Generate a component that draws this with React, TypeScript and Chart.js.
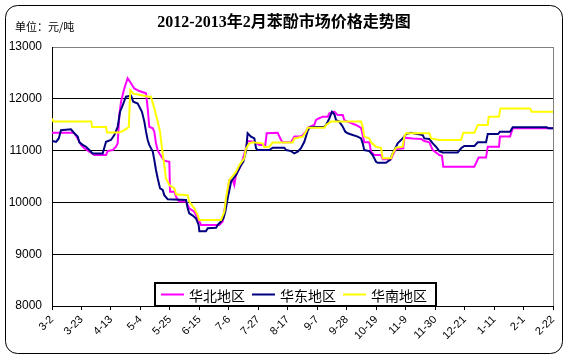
import React, { useEffect, useRef } from "react";
import { Chart, registerables } from "chart.js";

Chart.register(...registerables);

const chartTitle = "2012-2013年2月苯酚市场价格走势图";
const unitLabel = "单位：元/吨";
const tickLabels = ["3-2", "3-23", "4-13", "5-4", "5-25", "6-15", "7-6", "7-27", "8-17", "9-7", "9-28", "10-19", "11-9", "11-30", "12-21", "1-11", "2-1", "2-22"];
const dayStep = 21;
const seriesNames = ["华北地区", "华东地区", "华南地区"];
const seriesColors = ["#FF00FF", "#000080", "#FFFF00"];

// [day offset from 3-2, price 元/吨]
const huabei: [number, number][] = [
  [0, 11345], [14.8, 11345], [15.9, 11335], [18.3, 11235], [20.7, 11110], [23, 11045], [26.6, 10980], [30.1, 10915],
  [38.5, 10915], [39.7, 10990], [43.3, 11010], [45.6, 11075], [46.8, 11140], [48, 11690], [49.2, 11945], [51.5, 12200],
  [53.9, 12395], [56.3, 12300], [58.6, 12200], [62.2, 12150], [67, 12105], [68.2, 11815], [69.3, 11460], [71.8, 11430],
  [72.9, 11365], [74.1, 11140], [75.3, 11010], [76.5, 10945], [80, 10805], [83.6, 10785], [84.1, 10205], [87.2, 10205],
  [88.4, 10110], [90.7, 10015], [95.5, 10015], [97.8, 9885], [101.4, 9820], [105, 9630], [106.2, 9565], [119.2, 9565],
  [121.6, 9630], [123.5, 9950], [125.2, 10205], [126.3, 10430], [128.8, 10430], [129.9, 10335], [131.1, 10530],
  [134.7, 10720], [138.2, 11045], [139.4, 11185], [144.2, 11170], [147.7, 11110], [152, 11110], [153, 11335],
  [160.8, 11345], [163.2, 11205], [164.4, 11160], [170.3, 11160], [172.7, 11270], [177.4, 11270], [181, 11365],
  [182.2, 11440], [186.9, 11495], [188.1, 11590], [190, 11620], [192.9, 11655], [196.5, 11655], [197.6, 11720],
  [201.2, 11750], [203.6, 11685], [207.2, 11685], [208.3, 11590], [211.9, 11545], [216.6, 11495], [220.2, 11440],
  [221.4, 11300], [222.5, 11160], [226.1, 11160], [227.3, 10980], [229.7, 10915], [234.4, 10915], [235.7, 10835],
  [241.6, 10835], [242.8, 10915], [245.1, 11030], [250.3, 11045], [251, 11250], [257, 11235], [263, 11225],
  [265.3, 11185], [268.9, 11160], [271.3, 11010], [273.6, 10965], [276, 10915], [277.9, 10900], [278.8, 10690],
  [300.9, 10690], [302.1, 10755], [304, 10865], [309.3, 10865], [310.5, 11075], [318.5, 11075], [319.2, 11270],
  [326.4, 11270], [328.3, 11430], [357, 11430],
];

const huadong: [number, number][] = [
  [0, 11185], [2.9, 11170], [4.8, 11235], [6.4, 11395], [13.5, 11410], [15.9, 11335], [18.3, 11270], [19.5, 11160],
  [21.9, 11110], [24.2, 11075], [26.6, 11010], [29, 10945], [36.1, 10945], [38.5, 11170], [42, 11205], [44.4, 11300],
  [46.8, 11460], [48.5, 11750], [50.4, 11880], [52.7, 12040], [56.3, 12060], [57.9, 11945], [61.1, 11910], [62.2, 11850],
  [64.1, 11750], [65.8, 11560], [67, 11365], [68.2, 11205], [69.3, 11110], [71.8, 10980], [72.9, 10820], [74.1, 10625],
  [75.3, 10465], [77, 10270], [78.9, 10240], [80, 10140], [82.5, 10060], [95.5, 10045], [96.7, 9885], [97.8, 9790],
  [100.3, 9745], [102.6, 9690], [104.5, 9565], [105, 9445], [109.7, 9445], [111, 9500], [116.9, 9510], [118.1, 9565],
  [120.4, 9630], [122.1, 9690], [123.5, 9820], [125.2, 10080], [127.6, 10400], [131.1, 10530], [134.7, 10720],
  [136.3, 10785], [138.2, 10980], [139.4, 11335], [141.8, 11270], [144.2, 11235], [145.4, 11045], [146.6, 11010],
  [154.8, 11010], [157.3, 11055], [165.5, 11055], [166.8, 11010], [170.3, 10990], [172.7, 10945], [175.1, 10980],
  [177.4, 11045], [179.8, 11170], [182.4, 11400], [183.9, 11450], [194, 11460], [195.3, 11495], [197.6, 11620],
  [199.5, 11750], [201.2, 11700], [202.4, 11590], [204.7, 11560], [207.2, 11460], [209, 11365], [210.7, 11335],
  [214.3, 11300], [217.8, 11270], [220.2, 11235], [221.4, 11140], [222.5, 11010], [226.1, 10990], [228.5, 10915],
  [230.9, 10785], [232.1, 10765], [238, 10765], [240.9, 10820], [242.8, 10945], [246.3, 11140], [249.9, 11235],
  [252.3, 11320], [255.8, 11345], [264.2, 11300], [265.3, 11235], [268.9, 11225], [271.3, 11140], [273.6, 11075],
  [276, 10990], [278.4, 10965], [289.1, 10965], [291.5, 11045], [293.8, 11090], [301, 11090], [303.4, 11160],
  [309.3, 11160], [310.5, 11320], [317.8, 11320], [319.2, 11365], [326.4, 11365], [328.3, 11450], [352.6, 11450],
  [353.8, 11430], [357, 11430],
];

const huanan: [number, number][] = [
  [0, 11620], [1, 11560], [28, 11560], [28.6, 11455], [38.5, 11455], [39.2, 11350], [47.5, 11350], [50, 11370],
  [53, 11420], [54.7, 11455], [55.8, 12170], [58, 12100], [62, 12080], [69, 12040], [70.5, 12040], [72.9, 11815],
  [75.3, 11560], [77, 11365], [78.4, 11040], [80, 10720], [81.2, 10460], [83.6, 10335], [87.2, 10270], [88.4, 10155],
  [96.7, 10140], [97.8, 10015], [101.4, 9885], [103.8, 9755], [105, 9660], [120.4, 9660], [122.8, 9820], [124, 10080],
  [125.2, 10270], [126.3, 10430], [131.1, 10590], [133.5, 10720], [137, 10850], [138.2, 11040], [140.6, 11140],
  [143, 11160], [150.1, 11140], [151.3, 11065], [154.8, 11075], [157.3, 11155], [171.5, 11155], [172.7, 11235],
  [178.6, 11270], [181, 11365], [182.2, 11440], [194, 11440], [195.3, 11495], [198.8, 11560], [220.2, 11560],
  [221.4, 11460], [222.5, 11270], [226.1, 11235], [227.3, 11160], [230.9, 11075], [234.4, 11055], [235.7, 10850],
  [241.6, 10850], [242.8, 10945], [245.1, 11055], [249.9, 11075], [251, 11270], [252.3, 11335], [268.9, 11335],
  [270.1, 11235], [276, 11205], [291.5, 11205], [293.1, 11345], [301, 11345], [303.4, 11495], [310.5, 11495],
  [311.2, 11655], [318.5, 11655], [319.6, 11815], [340.6, 11815], [341.8, 11750], [357, 11750],
];

const seriesData = [huabei, huadong, huanan];

const framePlugin = {
  id: "frame",
  beforeDraw(chart: any) {
    const ctx = chart.ctx;
    ctx.save();
    ctx.fillStyle = "#ffffff";
    ctx.fillRect(0, 0, chart.width, chart.height);
    ctx.strokeStyle = "#000000";
    ctx.lineWidth = 1;
    ctx.beginPath();
    (ctx as any).roundRect(5.5, 5.5, 557, 348, 12);
    ctx.stroke();
    ctx.fillStyle = "#000000";
    ctx.textBaseline = "middle";
    ctx.textAlign = "center";
    ctx.font = "bold 16px 'Liberation Serif', 'Noto Sans CJK SC', serif";
    ctx.fillText(chartTitle, 284, 23);
    ctx.textAlign = "left";
    ctx.font = "11px 'Noto Sans CJK SC', sans-serif";
    ctx.fillText(unitLabel, 15, 27);
    ctx.restore();
  },
  afterDraw(chart: any) {
    const ctx = chart.ctx;
    const a = chart.chartArea;
    ctx.save();
    ctx.strokeStyle = "#808080";
    ctx.lineWidth = 1;
    ctx.beginPath();
    ctx.moveTo(Math.round(a.right) + 0.5, a.top);
    ctx.lineTo(Math.round(a.right) + 0.5, a.bottom);
    ctx.stroke();

    // legend inside plot area
    ctx.font = "14px 'Noto Sans CJK SC', sans-serif";
    const boxX = 155;
    const boxY = 283;
    const boxH = 23;
    let x = boxX + 6;
    const items = chart.data.datasets.map((ds: any) => {
      const item = { x, label: ds.label, color: ds.borderColor };
      x += 23 + 5 + ctx.measureText(ds.label).width + 7;
      return item;
    });
    const boxW = x - boxX + 2;
    ctx.fillStyle = "#ffffff";
    ctx.fillRect(boxX, boxY, boxW, boxH);
    ctx.strokeStyle = "#000000";
    ctx.lineWidth = 2;
    ctx.strokeRect(boxX, boxY, boxW, boxH);
    const cy = boxY + boxH / 2;
    items.forEach((it: any) => {
      ctx.strokeStyle = it.color;
      ctx.lineWidth = 2;
      ctx.beginPath();
      ctx.moveTo(it.x, cy);
      ctx.lineTo(it.x + 23, cy);
      ctx.stroke();
      ctx.fillStyle = "#000000";
      ctx.textAlign = "left";
      ctx.textBaseline = "middle";
      ctx.fillText(it.label, it.x + 28, cy + 1);
    });
    ctx.restore();
  },
};

export default function App() {
  const ref = useRef<HTMLCanvasElement>(null);
  useEffect(() => {
    if (!ref.current) return;
    const chart = new Chart(ref.current, {
      type: "line",
      data: {
        datasets: seriesNames.map((name, i) => ({
          label: name,
          data: seriesData[i].map(([d, v]) => ({ x: d, y: v })),
          borderColor: seriesColors[i],
          backgroundColor: seriesColors[i],
          borderWidth: 2,
          pointRadius: 0,
          tension: 0,
          fill: false,
          order: 2 - i,
        })),
      },
      options: {
        responsive: false,
        animation: false,
        events: [],
        layout: { padding: { top: 47, right: 15, left: 0, bottom: 0 } },
        plugins: {
          legend: { display: false },
          tooltip: { enabled: false },
          title: { display: false },
        },
        scales: {
          x: {
            type: "linear",
            min: 0,
            max: dayStep * (tickLabels.length - 1),
            afterFit: (s: any) => {
              s.height = 54;
            },
            ticks: {
              stepSize: dayStep,
              autoSkip: false,
              minRotation: 45,
              maxRotation: 45,
              padding: 3,
              color: "#000000",
              font: { family: "'Liberation Sans', Arial, sans-serif", size: 11 },
              callback: (v: any) => tickLabels[Math.round(Number(v) / dayStep)] ?? "",
            },
            grid: { drawOnChartArea: false, drawTicks: true, tickLength: 4, color: "#000000" },
            border: { display: true, color: "#000000" },
          },
          y: {
            min: 8000,
            max: 13000,
            afterFit: (s: any) => {
              s.width = 52;
            },
            ticks: {
              stepSize: 1000,
              padding: 10,
              color: "#000000",
              font: { family: "'Liberation Sans', Arial, sans-serif", size: 12 },
              callback: (v: any) => String(v),
            },
            grid: {
              drawTicks: false,
              color: (c: any) => (c.tick && c.tick.value === 13000 ? "#808080" : "#000000"),
            },
            border: { display: true, color: "#000000" },
          },
        },
      } as any,
      plugins: [framePlugin],
    });
    return () => chart.destroy();
  }, []);
  return (
    <div style={{ position: "fixed", left: 0, top: 0, width: 568, height: 360, background: "#ffffff" }}>
      <canvas ref={ref} width={568} height={360} style={{ display: "block" }} />
    </div>
  );
}
